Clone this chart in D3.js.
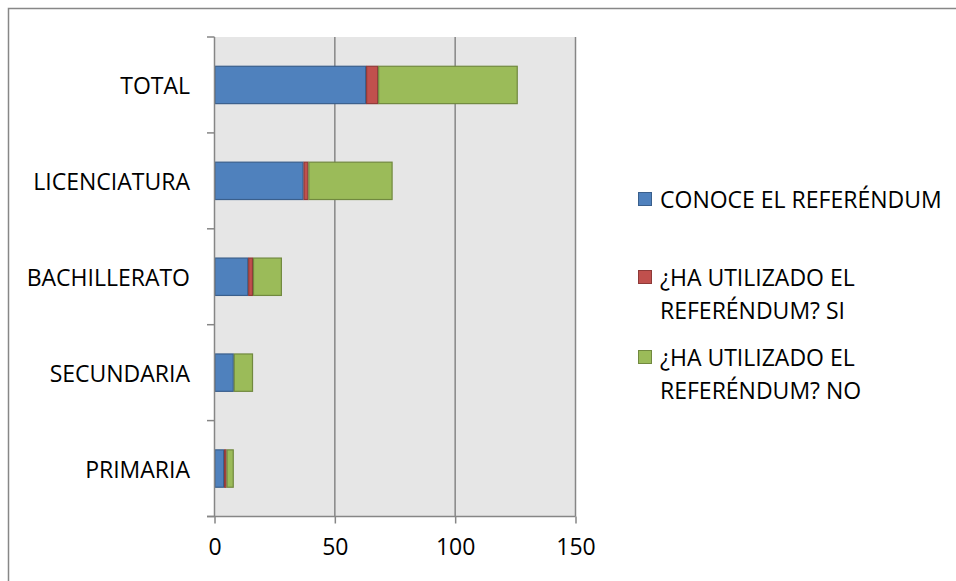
<!DOCTYPE html>
<html>
<head>
<meta charset="utf-8">
<script src="https://cdn.jsdelivr.net/npm/d3@7/dist/d3.min.js"></script>
<style>
  html, body { margin: 0; padding: 0; background: #fff; }
  svg { display: block; }
  text { font-family: "Open Sans", Lato, sans-serif; fill: #000; }
</style>
</head>
<body>
<svg id="chart" width="956" height="581"></svg>
<script>
// Respondents by education level
const categories = ["TOTAL", "LICENCIATURA", "BACHILLERATO", "SECUNDARIA", "PRIMARIA"];
const conoce = [63, 37, 14, 8, 4];
const utilizadoSi = [5, 2, 2, 0, 1];
const utilizadoNo = [58, 35, 12, 8, 3];
const seriesNames = ["CONOCE EL REFERÉNDUM", "¿HA UTILIZADO EL REFERÉNDUM? SI", "¿HA UTILIZADO EL REFERÉNDUM? NO"];
const legendLines = [["CONOCE EL REFERÉNDUM"], ["¿HA UTILIZADO EL", "REFERÉNDUM? SI"], ["¿HA UTILIZADO EL", "REFERÉNDUM? NO"]];
const xTicks = [0, 50, 100, 150];

const fills = ["#4F81BD", "#C0504D", "#9BBB59"];
const strokes = ["#3A5F8C", "#8E3A38", "#71893F"];
const keys = ["conoce", "si", "no"];
const fontSize = 23;

const rows = categories.map((c, i) => ({ cat: c, conoce: conoce[i], si: utilizadoSi[i], no: utilizadoNo[i] }));
const stacked = d3.stack().keys(keys)(rows);

const svg = d3.select("#chart");
const plot = { left: 214.5, right: 575.5, top: 37, bottom: 516.5 };

const x = d3.scaleLinear().domain([0, 150]).range([plot.left, plot.right]);
const y = d3.scaleBand().domain(categories).range([plot.top, plot.bottom])
  .paddingInner(0.6).paddingOuter(0.3);

// outer chart frame
svg.append("rect")
  .attr("x", 8.5).attr("y", 8.5).attr("width", 1000).attr("height", 700)
  .attr("fill", "none").attr("stroke", "#878787").attr("stroke-width", 1.5);

// plot background
svg.append("rect")
  .attr("x", plot.left).attr("y", plot.top)
  .attr("width", plot.right - plot.left).attr("height", plot.bottom - plot.top)
  .attr("fill", "#E6E6E6");

// vertical gridlines
svg.append("g").selectAll("line").data(xTicks.filter(d => d > 0)).join("line")
  .attr("x1", d => x(d)).attr("x2", d => x(d))
  .attr("y1", plot.top).attr("y2", plot.bottom)
  .attr("stroke", "#868686").attr("stroke-width", 1.5);

// stacked bars
svg.append("g").selectAll("g").data(stacked).join("g")
  .attr("fill", (d, i) => fills[i]).attr("stroke", (d, i) => strokes[i])
  .selectAll("rect").data(d => d.filter(s => s[1] - s[0] > 0)).join("rect")
  .attr("x", d => x(d[0]) + 0.5)
  .attr("width", d => Math.max(0, x(d[1]) - x(d[0]) - 1))
  .attr("y", d => y(d.data.cat) + 0.5)
  .attr("height", y.bandwidth() - 1)
  .attr("stroke-width", 1.2);

// category axis line and boundary ticks
const axisColor = "#868686";
svg.append("line")
  .attr("x1", plot.left).attr("x2", plot.left)
  .attr("y1", plot.top).attr("y2", plot.bottom)
  .attr("stroke", axisColor).attr("stroke-width", 1.5);
const step = y.step();
svg.append("g").selectAll("line").data(d3.range(categories.length + 1)).join("line")
  .attr("x1", plot.left - 7.5).attr("x2", plot.left)
  .attr("y1", i => plot.top + i * step).attr("y2", i => plot.top + i * step)
  .attr("stroke", axisColor).attr("stroke-width", 1.5);

// category labels
svg.append("g").selectAll("text").data(categories).join("text")
  .attr("x", 190).attr("y", d => y(d) + y.bandwidth() / 2)
  .attr("text-anchor", "end").attr("dominant-baseline", "central")
  .attr("font-size", fontSize)
  .text(d => d);

// value axis
const xAxis = d3.axisBottom(x).tickValues(xTicks).tickSizeInner(7).tickSizeOuter(0).tickPadding(15);
const gx = svg.append("g").attr("transform", `translate(0,${plot.bottom})`).call(xAxis);
gx.select(".domain").remove();
gx.selectAll(".tick line").attr("stroke", axisColor).attr("stroke-width", 1.5);
gx.selectAll(".tick text").attr("font-size", fontSize).attr("font-family", "'Open Sans', Lato, sans-serif").attr("fill", "#000");
svg.append("line")
  .attr("x1", plot.left - 7.5).attr("x2", plot.right)
  .attr("y1", plot.bottom).attr("y2", plot.bottom)
  .attr("stroke", axisColor).attr("stroke-width", 1.5);

// legend
const legendY = [199, 277, 357];
const lg = svg.append("g").selectAll("g").data(seriesNames).join("g")
  .attr("transform", (d, i) => `translate(638,${legendY[i]})`);
lg.append("rect")
  .attr("x", 0.5).attr("y", -6.5).attr("width", 13).attr("height", 13)
  .attr("fill", (d, i) => fills[i]).attr("stroke", (d, i) => strokes[i]).attr("stroke-width", 1);
lg.append("text")
  .attr("x", 22).attr("font-size", fontSize)
  .selectAll("tspan").data((d, i) => legendLines[i]).join("tspan")
  .attr("x", 22).attr("y", (d, j) => j * 33)
  .attr("dominant-baseline", "central")
  .text(d => d);
</script>
</body>
</html>
